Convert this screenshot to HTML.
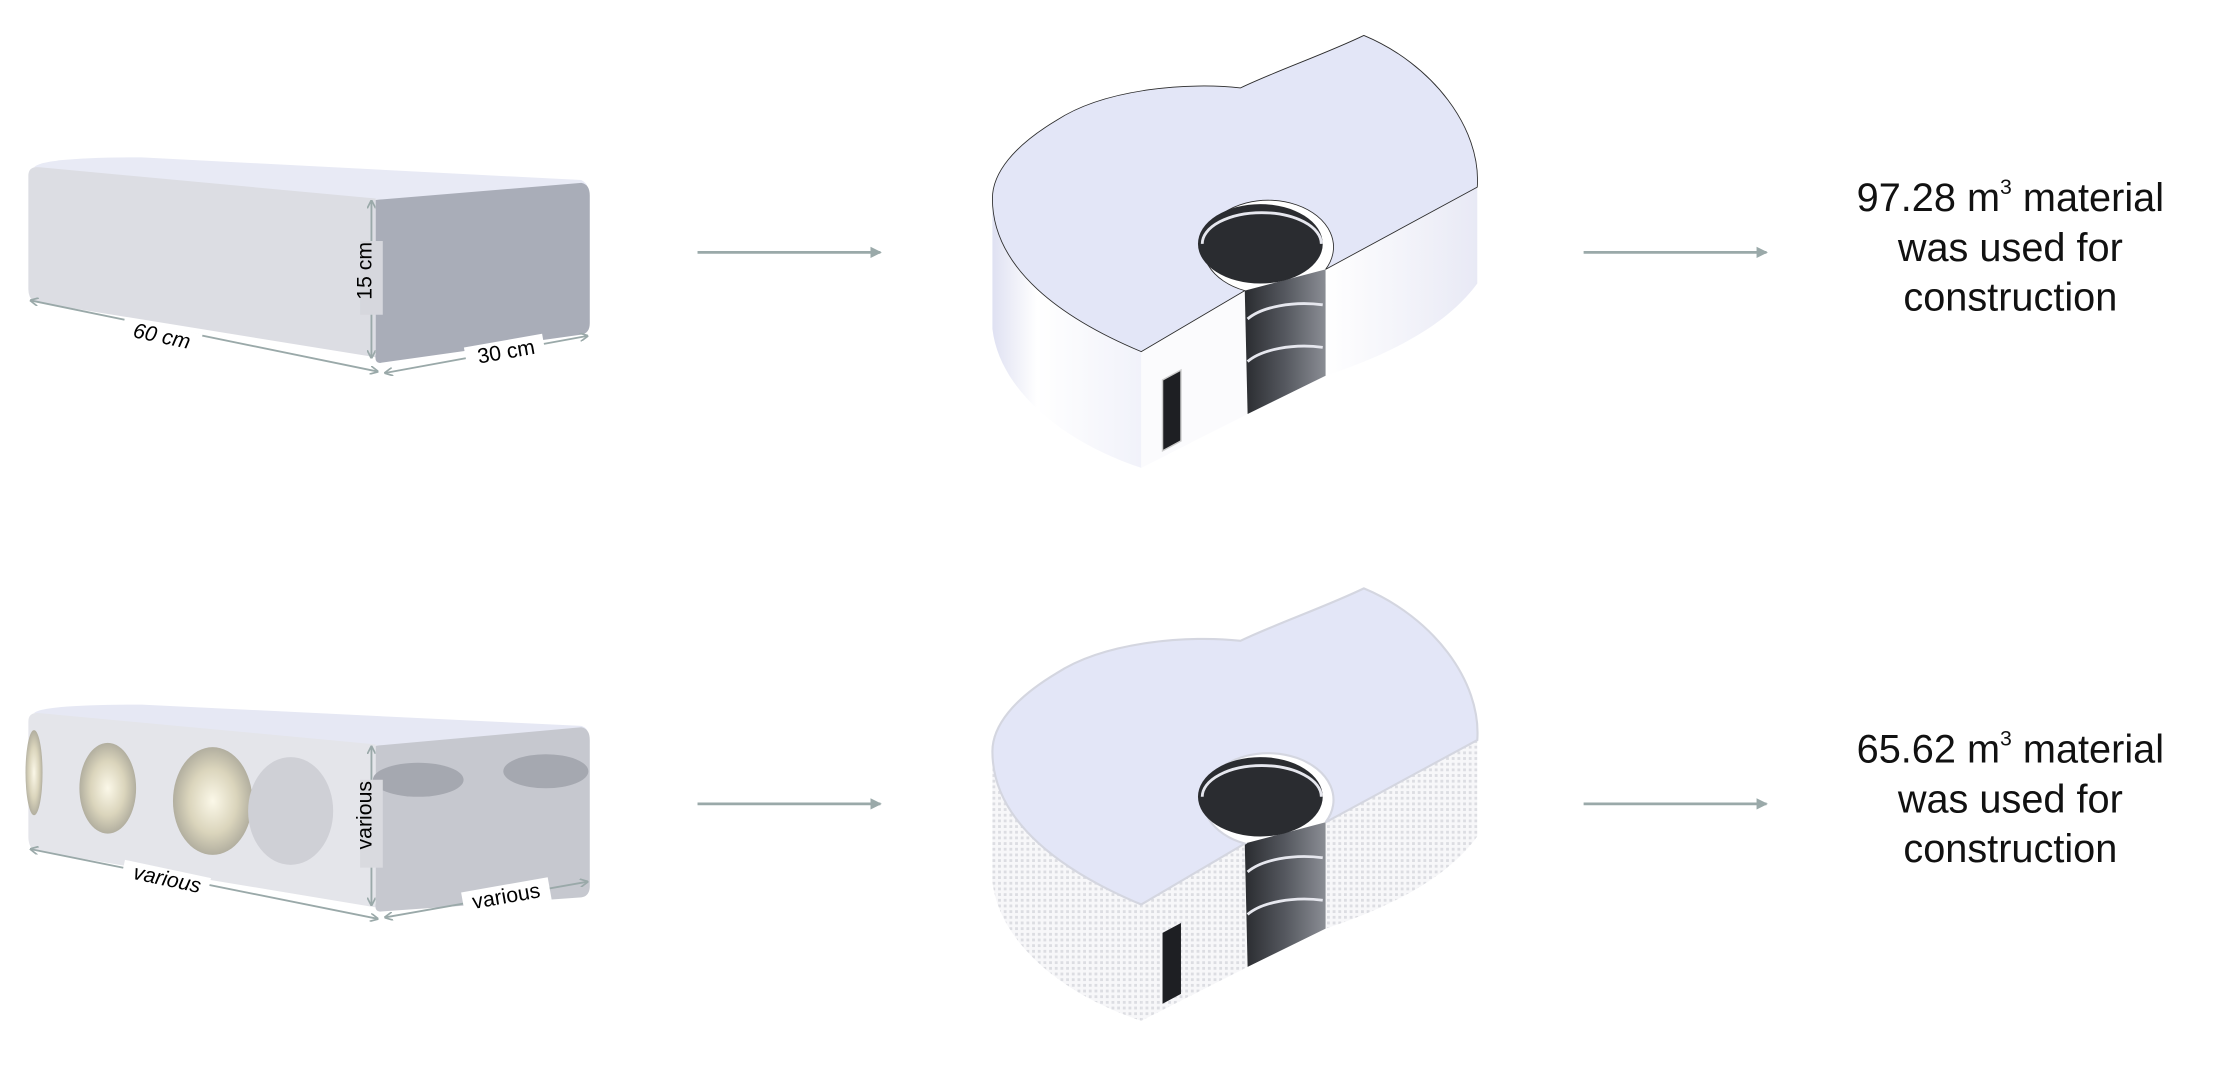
<!DOCTYPE html>
<html><head><meta charset="utf-8"><style>
html,body{margin:0;padding:0;background:#fff;}
svg{display:block;}
text{font-family:"Liberation Sans",sans-serif;}
</style></head><body>
<svg width="2223" height="1067" viewBox="0 0 1568 752.6" preserveAspectRatio="none" xmlns="http://www.w3.org/2000/svg">
<defs>
<linearGradient id="wall" x1="0" y1="0" x2="1" y2="0">
<stop offset="0" stop-color="#dfe1f2"/><stop offset="0.3" stop-color="#ffffff"/><stop offset="1" stop-color="#f1f2fa"/>
</linearGradient>
<linearGradient id="rw" x1="0" y1="0" x2="1" y2="0">
<stop offset="0" stop-color="#ffffff"/><stop offset="1" stop-color="#e8e9f5"/>
</linearGradient>
<linearGradient id="slot" x1="0" y1="0" x2="1" y2="0">
<stop offset="0" stop-color="#2a2c30"/><stop offset="0.5" stop-color="#55585f"/><stop offset="1" stop-color="#8a8d94"/>
</linearGradient>
<pattern id="tex" width="4" height="4" patternUnits="userSpaceOnUse">
<rect width="4" height="4" fill="#f7f7f9"/><rect width="2" height="2" fill="#dcdde2"/>
</pattern>
<radialGradient id="hole" cx="0.5" cy="0.5" r="0.5">
<stop offset="0" stop-color="#fffbe8"/><stop offset="0.6" stop-color="#d9d2b4"/><stop offset="1" stop-color="#a9a592"/>
</radialGradient>
<marker id="ah" markerWidth="8" markerHeight="8" refX="7" refY="4" orient="auto" markerUnits="userSpaceOnUse">
<path d="M0,0 L8,4 L0,8 Z" fill="#9aa9a9"/></marker>
<marker id="sa" markerWidth="6" markerHeight="6" refX="5" refY="3" orient="auto-start-reverse" markerUnits="userSpaceOnUse">
<path d="M0,0 L6,3 L0,6" fill="none" stroke="#9aa9a9" stroke-width="1.2"/></marker>
</defs>

<!-- Brick 1 -->
<path d="M24,118 Q30,111 100,111 L410,127 Q416,130 414,136 L268,141 Z" fill="#e8eaf5"/>
<path d="M20,124 Q20,117 28,118 L265,140 L265,252 L24,213 Q20,210 20,204 Z" fill="#dcdde3"/>
<path d="M265,141 L410,129 Q416,130 416,138 L416,228 Q416,235 410,236 L268,256 Q264,256 265,250 Z" fill="#a9adb8"/>
<line x1="22" y1="212" x2="266" y2="262" stroke="#9aa9a9" stroke-width="1.3" marker-start="url(#sa)" marker-end="url(#sa)"/>
<line x1="262" y1="142" x2="262" y2="252" stroke="#9aa9a9" stroke-width="1.3" marker-start="url(#sa)" marker-end="url(#sa)"/>
<line x1="272" y1="263" x2="414" y2="237" stroke="#9aa9a9" stroke-width="1.3" marker-start="url(#sa)" marker-end="url(#sa)"/>
<rect x="86" y="230" width="56" height="14" fill="#fff" transform="rotate(12 114 237)"/>
<text x="114" y="242" font-size="15" font-style="italic" text-anchor="middle" transform="rotate(12 114 238)">60 cm</text>
<rect x="254" y="170" width="16" height="52" fill="#d6d7dd"/>
<text x="267" y="196" font-size="15" text-anchor="middle" transform="rotate(-90 262 196)">15 cm</text>
<rect x="328" y="240" width="56" height="16" fill="#fff" transform="rotate(-10 357 247)"/>
<text x="357" y="253" font-size="15" text-anchor="middle" transform="rotate(-10 357 248)">30 cm</text>

<!-- Brick 2 -->
<path d="M24,503 Q30,497 100,497 L410,512 Q416,514 414,520 L268,526 Z" fill="#e6e8f4"/>
<path d="M20,509 Q20,502 28,503 L265,525 L265,640 L24,600 Q20,597 20,590 Z" fill="#e4e5ea"/>
<path d="M265,526 L410,513 Q416,514 416,522 L416,625 Q416,632 410,633 L268,643 Q264,643 265,637 Z" fill="#c6c8cf"/>
<ellipse cx="76" cy="556" rx="20" ry="32" fill="url(#hole)" opacity="0.85"/>
<ellipse cx="150" cy="565" rx="28" ry="38" fill="url(#hole)" opacity="0.85"/>
<ellipse cx="205" cy="572" rx="30" ry="38" fill="#cfd0d6"/>
<ellipse cx="24" cy="545" rx="6" ry="30" fill="url(#hole)" opacity="0.85"/>
<ellipse cx="295" cy="550" rx="32" ry="12" fill="#a5a8b0"/>
<ellipse cx="385" cy="544" rx="30" ry="12" fill="#a5a8b0"/>
<line x1="22" y1="599" x2="266" y2="648" stroke="#9aa9a9" stroke-width="1.3" marker-start="url(#sa)" marker-end="url(#sa)"/>
<line x1="262" y1="527" x2="262" y2="638" stroke="#9aa9a9" stroke-width="1.3" marker-start="url(#sa)" marker-end="url(#sa)"/>
<line x1="272" y1="647" x2="414" y2="622" stroke="#9aa9a9" stroke-width="1.3" marker-start="url(#sa)" marker-end="url(#sa)"/>
<rect x="86" y="613" width="62" height="14" fill="#fff" transform="rotate(12 118 620)"/>
<text x="118" y="625" font-size="15" font-style="italic" text-anchor="middle" transform="rotate(12 118 620)">various</text>
<rect x="254" y="550" width="16" height="62" fill="#d9dadf"/>
<text x="267" y="580" font-size="15" text-anchor="middle" transform="rotate(-90 262 580)">various</text>
<rect x="326" y="624" width="62" height="16" fill="#fff" transform="rotate(-10 357 631)"/>
<text x="357" y="637" font-size="15" text-anchor="middle" transform="rotate(-10 357 632)">various</text>

<!-- Arrows -->
<line x1="492" y1="178" x2="621" y2="178" stroke="#9aa9a9" stroke-width="2" marker-end="url(#ah)"/>
<line x1="1117" y1="178" x2="1246" y2="178" stroke="#9aa9a9" stroke-width="2" marker-end="url(#ah)"/>
<line x1="492" y1="567" x2="621" y2="567" stroke="#9aa9a9" stroke-width="2" marker-end="url(#ah)"/>
<line x1="1117" y1="567" x2="1246" y2="567" stroke="#9aa9a9" stroke-width="2" marker-end="url(#ah)"/>

<!-- Building 1 -->
<g>
<path d="M700,140 L700,232 C705,275 750,312 805,330 L805,248 C750,225 700,190 700,140 Z" fill="url(#wall)"/>
<path d="M805,248 L878,205 L880,292 L805,330 Z" fill="#fbfbfd"/>
<path d="M935,190 L1042,132 L1042,200 C1020,230 980,250 935,265 Z" fill="url(#rw)"/>
<path d="M878,205 L880,292 L935,265 L935,190 Z" fill="url(#slot)"/>
<path d="M880,225 A45,20 0 0,1 933,215 M880,255 A45,20 0 0,1 933,245" fill="none" stroke="#e6e7ee" stroke-width="2"/>
<path d="M805,248 L878,205 A46,33 0 1,1 935,190 L1042,132 C1045,90 1010,45 962,25 C935,38 900,50 875,62 C840,58 780,62 745,85 C715,103 700,122 700,140 C700,190 750,225 805,248 Z" fill="#e3e6f7" stroke="#2a2a2a" stroke-width="0.6"/>
<ellipse cx="889" cy="172" rx="44" ry="28" fill="#2a2c30"/>
<path d="M848,172 A42,22 0 0,1 932,172" fill="none" stroke="#e6e7ee" stroke-width="2"/>
<path d="M820,268 L833,261 L833,311 L820,318 Z" fill="#1e1f23" stroke="#ccc" stroke-width="1"/>
</g>

<!-- Building 2 -->
<g transform="translate(0,390)">
<path d="M700,140 L700,232 C705,275 750,312 805,330 L805,248 C750,225 700,190 700,140 Z" fill="url(#tex)"/>
<path d="M805,248 L878,205 L880,292 L805,330 Z" fill="url(#tex)"/>
<path d="M935,190 L1042,132 L1042,200 C1020,230 980,250 935,265 Z" fill="url(#tex)"/>
<path d="M878,205 L880,292 L935,265 L935,190 Z" fill="url(#slot)"/>
<path d="M880,225 A45,20 0 0,1 933,215 M880,255 A45,20 0 0,1 933,245" fill="none" stroke="#e6e7ee" stroke-width="2"/>
<path d="M805,248 L878,205 A46,33 0 1,1 935,190 L1042,132 C1045,90 1010,45 962,25 C935,38 900,50 875,62 C840,58 780,62 745,85 C715,103 700,122 700,140 C700,190 750,225 805,248 Z" fill="#e3e6f7" stroke="#d4d6e0" stroke-width="1.5"/>
<ellipse cx="889" cy="172" rx="44" ry="28" fill="#2a2c30"/>
<path d="M848,172 A42,22 0 0,1 932,172" fill="none" stroke="#e6e7ee" stroke-width="2"/>
<path d="M820,268 L833,261 L833,311 L820,318 Z" fill="#1e1f23"/>
</g>

<!-- Texts -->
<g font-size="28" text-anchor="middle" fill="#111">
<text x="1418" y="149">97.28 m<tspan font-size="15" dy="-12">3</tspan><tspan dy="12"> material</tspan></text>
<text x="1418" y="184">was used for</text>
<text x="1418" y="219">construction</text>
<text x="1418" y="538">65.62 m<tspan font-size="15" dy="-12">3</tspan><tspan dy="12"> material</tspan></text>
<text x="1418" y="573">was used for</text>
<text x="1418" y="608">construction</text>
</g>
</svg>
</body></html>
